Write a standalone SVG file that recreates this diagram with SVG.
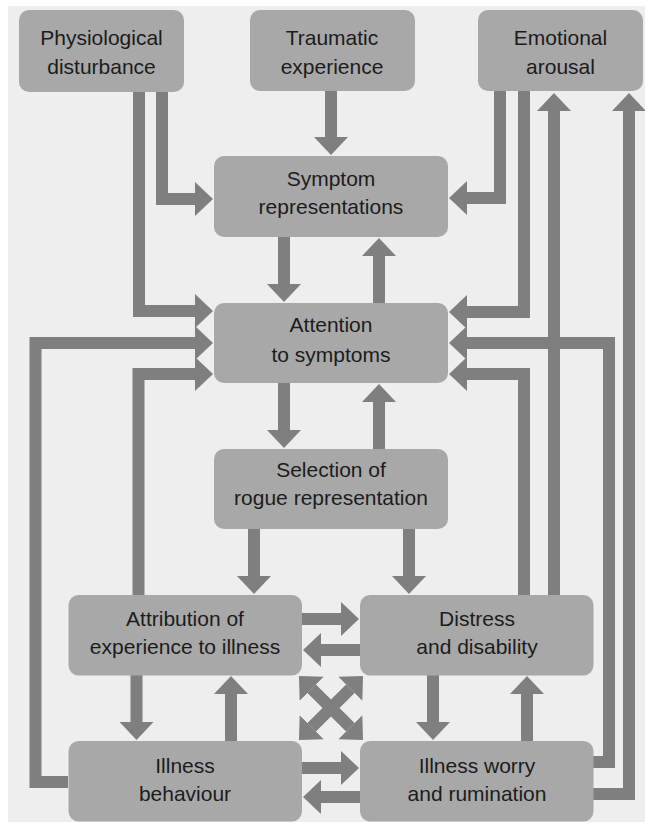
<svg xmlns="http://www.w3.org/2000/svg" width="645" height="824" viewBox="0 0 645 824">
<defs>
<marker id="ah" viewBox="0 0 18 34" refX="0" refY="17" markerWidth="18" markerHeight="34" markerUnits="userSpaceOnUse" orient="auto-start-reverse">
<path d="M0,0 L18,17 L0,34 Z" fill="#7f7f7f"/>
</marker>
</defs>
<style>
.box{fill:#a8a8a8;}
.t{font-family:"Liberation Sans",Arial,sans-serif;font-size:21px;fill:#1c1c1c;text-anchor:middle;}
.c{fill:none;stroke:#7f7f7f;stroke-width:12;stroke-linejoin:miter;stroke-linecap:butt;marker-end:url(#ah);}
.x{fill:none;stroke:#7f7f7f;stroke-width:12;stroke-linecap:butt;marker-start:url(#ah);marker-end:url(#ah);}
</style>
<rect x="0" y="0" width="645" height="824" fill="#ffffff"/>
<rect x="8" y="6" width="637" height="816" fill="#eeeeee"/>

<g id="connectors">
<path class="c" d="M162,92 V199 H195"/>
<path class="c" d="M139,92 V311 H195"/>
<path class="c" d="M68,782 H35.5 V343 H195"/>
<path class="c" d="M138.5,595 V374 H195"/>
<path class="c" d="M331,91 V137"/>
<path class="c" d="M284,237 V284"/>
<path class="c" d="M379,303 V256"/>
<path class="c" d="M284,383 V430"/>
<path class="c" d="M379,449 V402"/>
<path class="c" d="M254,529 V576"/>
<path class="c" d="M409,529 V576"/>
<path class="c" d="M302,619 H341"/>
<path class="c" d="M360,650 H321"/>
<path class="x" d="M311.7,688.7 L350.3,727.3"/>
<path class="x" d="M350.3,688.7 L311.7,727.3"/>
<path class="c" d="M136.5,675 V722"/>
<path class="c" d="M231,741 V694"/>
<path class="c" d="M433,675 V722"/>
<path class="c" d="M527,741 V694"/>
<path class="c" d="M302,768 H341"/>
<path class="c" d="M360,797 H321"/>
<path class="c" d="M500,91 V198 H467"/>
<path class="c" d="M524,91 V312 H467"/>
<path class="c" d="M554,595 V111"/>
<path class="c" d="M593,794 H629 V111"/>
<path class="c" d="M524,595 V374 H467"/>
<path class="c" d="M593,762 H609 V343 H467"/>
</g>

<g id="physiological">
<rect class="box" x="19" y="10" width="165" height="82" rx="10"/>
<text class="t" x="101.5" y="45">Physiological</text>
<text class="t" x="101.5" y="74">disturbance</text>
</g>
<g id="traumatic">
<rect class="box" x="250" y="10" width="165" height="81" rx="10"/>
<text class="t" x="332" y="45">Traumatic</text>
<text class="t" x="332" y="74">experience</text>
</g>
<g id="emotional">
<rect class="box" x="478" y="10" width="165" height="81" rx="10"/>
<text class="t" x="560.5" y="45">Emotional</text>
<text class="t" x="560.5" y="74">arousal</text>
</g>
<g id="symptom">
<rect class="box" x="214" y="156" width="234" height="81" rx="10"/>
<text class="t" x="331" y="186">Symptom</text>
<text class="t" x="331" y="214">representations</text>
</g>
<g id="attention">
<rect class="box" x="214" y="303" width="234" height="80" rx="10"/>
<text class="t" x="331" y="332">Attention</text>
<text class="t" x="331" y="362">to symptoms</text>
</g>
<g id="selection">
<rect class="box" x="214" y="449" width="234" height="80" rx="10"/>
<text class="t" x="331" y="477">Selection of</text>
<text class="t" x="331" y="505">rogue representation</text>
</g>
<g id="attribution">
<rect class="box" x="68.5" y="595" width="233.5" height="80.5" rx="10"/>
<text class="t" x="185" y="626">Attribution of</text>
<text class="t" x="185" y="654">experience to illness</text>
</g>
<g id="distress">
<rect class="box" x="360" y="595" width="233.5" height="80.5" rx="10"/>
<text class="t" x="477" y="626">Distress</text>
<text class="t" x="477" y="654">and disability</text>
</g>
<g id="behaviour">
<rect class="box" x="68.5" y="741" width="233.5" height="80.5" rx="10"/>
<text class="t" x="185" y="773">Illness</text>
<text class="t" x="185" y="801">behaviour</text>
</g>
<g id="worry">
<rect class="box" x="360" y="741" width="233.5" height="80.5" rx="10"/>
<text class="t" x="477" y="773">Illness worry</text>
<text class="t" x="477" y="801">and rumination</text>
</g>
</svg>
